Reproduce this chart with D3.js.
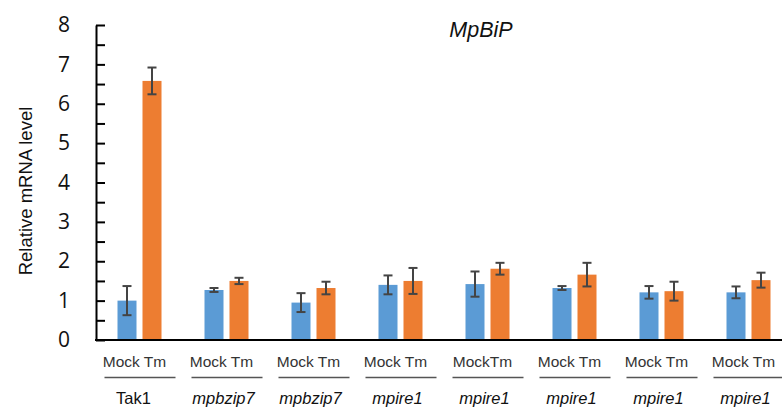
<!DOCTYPE html>
<html>
<head>
<meta charset="utf-8">
<script src="https://cdn.jsdelivr.net/npm/d3@7"></script>
<style>
  body { margin: 0; background: #fff; }
  svg { display: block; }
</style>
</head>
<body>
<div id="chart"></div>
<script>
// data
var groups = ['Tak1', 'mpbzip7', 'mpbzip7b', 'mpire1a', 'mpire1b', 'mpire1c', 'mpire1d', 'mpire1e'];
var groupLabels = ['Tak1', 'mpbzip7', 'mpbzip7', 'mpire1', 'mpire1', 'mpire1', 'mpire1', 'mpire1'];
var subLabels = ['Mock Tm', 'Mock Tm', 'Mock Tm', 'Mock Tm', 'MockTm', 'Mock Tm', 'Mock Tm', 'Mock Tm'];
var mockVals = [1.0, 1.27, 0.95, 1.40, 1.42, 1.32, 1.21, 1.21];
var mockErr  = [0.37, 0.05, 0.24, 0.24, 0.32, 0.05, 0.16, 0.15];
var tmVals   = [6.58, 1.50, 1.32, 1.50, 1.81, 1.66, 1.24, 1.52];
var tmErr    = [0.34, 0.08, 0.16, 0.33, 0.15, 0.30, 0.24, 0.19];
var yTicks = [0, 0.5, 1, 1.5, 2, 2.5, 3, 3.5, 4, 4.5, 5, 5.5, 6, 6.5, 7, 7.5, 8];

const W = 782, H = 410;
var margin = {top: 25, left: 96, bottom: 70};

var svg = d3.select('#chart').append('svg')
    .attr('width', W)
    .attr('height', H);

var y = d3.scaleLinear().domain([0, 8]).range([H - margin.bottom, margin.top]);
var x = d3.scaleBand().domain(groups).range([margin.left, margin.left + 87 * 8]);

var blue = '#5B9BD5', orange = '#ED7D31';

// bars
var g = svg.selectAll('.grp')
    .data(groups)
    .enter()
    .append('g')
    .attr('class', 'grp')
    .attr('transform', d => `translate(${x(d) + x.bandwidth() / 2}, 0)`);

g.append('rect')
    .attr('x', -22)
    .attr('width', 19)
    .attr('y', (d, i) => y(mockVals[i]))
    .attr('height', (d, i) => y(0) - y(mockVals[i]))
    .attr('fill', blue);

g.append('rect')
    .attr('x', 3)
    .attr('width', 19)
    .attr('y', (d, i) => y(tmVals[i]))
    .attr('height', (d, i) => y(0) - y(tmVals[i]))
    .attr('fill', orange);

// error bars
function errBar(sel, cx, vals, errs) {
    sel.append('line')
        .attr('x1', cx).attr('x2', cx)
        .attr('y1', (d, i) => y(vals[i] + errs[i]))
        .attr('y2', (d, i) => y(vals[i] - errs[i]))
        .attr('stroke', '#444').attr('stroke-width', 2);
    [1, -1].forEach(s => {
        sel.append('line')
            .attr('x1', cx - 4.5).attr('x2', cx + 4.5)
            .attr('y1', (d, i) => y(vals[i] + s * errs[i]))
            .attr('y2', (d, i) => y(vals[i] + s * errs[i]))
            .attr('stroke', '#444').attr('stroke-width', 2);
    });
}
errBar(g, -12.5, mockVals, mockErr);
errBar(g, 12.5, tmVals, tmErr);

// y axis
var yAxis = d3.axisLeft(y)
    .tickValues(yTicks)
    .tickSizeInner(-9)
    .tickSizeOuter(0)
    .tickPadding(26)
    .tickFormat(d => Number.isInteger(d) ? d : '');

var ya = svg.append('g')
    .attr('transform', `translate(${margin.left}, 0)`)
    .call(yAxis);
ya.select('.domain').attr('stroke', '#000').attr('stroke-width', 2);
ya.selectAll('.tick line').attr('stroke', '#000').attr('stroke-width', 2);
ya.selectAll('.tick text')
    .style('font-family', '"Open Sans", sans-serif')
    .style('font-size', '21px')
    .attr('fill', '#111');

// baseline
svg.append('line')
    .attr('x1', margin.left - 1).attr('x2', W)
    .attr('y1', y(0)).attr('y2', y(0))
    .attr('stroke', '#000').attr('stroke-width', 2);

// x labels
g.append('text')
    .attr('x', -5)
    .attr('y', 367)
    .attr('text-anchor', 'middle')
    .style('font-family', '"Liberation Sans", Arial, sans-serif')
    .style('font-size', '15.5px')
    .attr('fill', '#333')
    .text((d, i) => subLabels[i]);

g.append('line')
    .attr('x1', -35).attr('x2', 36)
    .attr('y1', 377.5).attr('y2', 377.5)
    .attr('stroke', '#555').attr('stroke-width', 1.5);

g.append('text')
    .attr('x', (d, i) => i === 0 ? -6 : -3)
    .attr('y', 404)
    .attr('text-anchor', 'middle')
    .style('font-family', '"Liberation Sans", Arial, sans-serif')
    .style('font-size', '16.5px')
    .style('font-style', (d, i) => i === 0 ? 'normal' : 'italic')
    .attr('fill', '#111')
    .text((d, i) => groupLabels[i]);

// y label
svg.append('text')
    .attr('transform', 'translate(32, 191) rotate(-90)')
    .attr('text-anchor', 'middle')
    .style('font-family', '"Liberation Sans", Arial, sans-serif')
    .style('font-size', '18.5px')
    .attr('fill', '#111')
    .text('Relative mRNA level');

// title
svg.append('text')
    .attr('x', 481)
    .attr('y', 37)
    .attr('text-anchor', 'middle')
    .style('font-family', '"Liberation Sans", Arial, sans-serif')
    .style('font-size', '21.5px')
    .style('font-style', 'italic')
    .attr('fill', '#111')
    .text('MpBiP');
</script>
</body>
</html>
